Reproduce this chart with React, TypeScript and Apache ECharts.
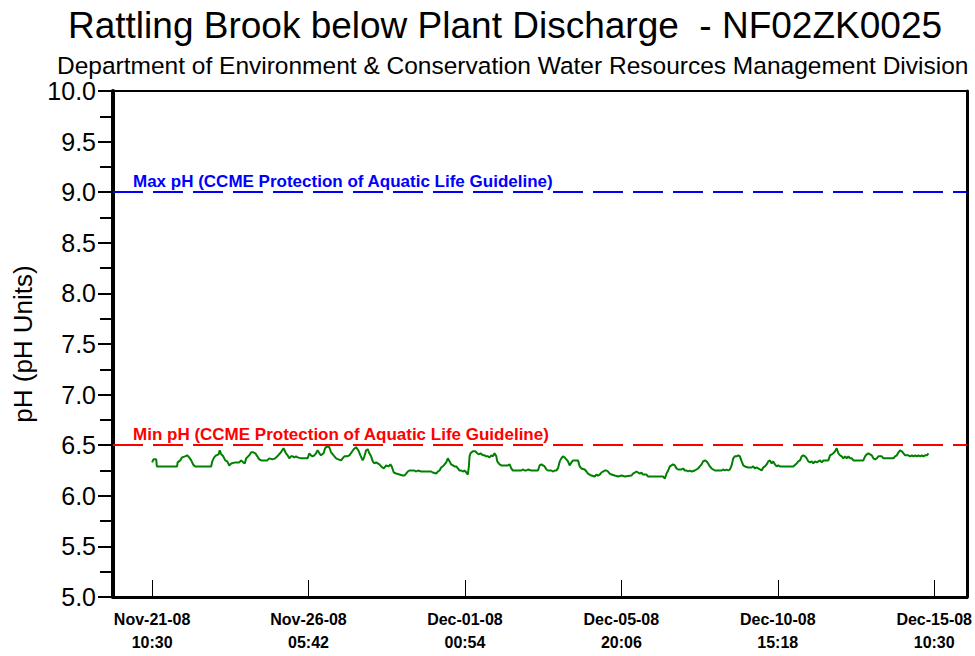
import React, { useEffect, useRef } from "react";
import * as echarts from "echarts";

// Hours after Nov-21-08 10:30, pH
const readingsNov21: [number, number][] = [
  [0, 6.33], [1, 6.36], [3, 6.36], [3.5, 6.29], [18.4, 6.29], [18.8, 6.33], [20.7, 6.35], [22.1, 6.38], [24.3, 6.39], [25.8, 6.4],
  [27.3, 6.38], [28.8, 6.35], [30.2, 6.31], [31.7, 6.29], [43.5, 6.29], [44.3, 6.34], [45.7, 6.38], [47.2, 6.4], [49.0, 6.41], [49.8, 6.45],
  [50.9, 6.41], [52.4, 6.39], [53.9, 6.35], [55.3, 6.34], [56.8, 6.3], [58.3, 6.32], [61.2, 6.33], [64.2, 6.33], [65.6, 6.35], [67.1, 6.33],
  [68.2, 6.32], [69.3, 6.37], [70.8, 6.39], [71.5, 6.4], [73.0, 6.43], [74.5, 6.43], [76.0, 6.42], [77.5, 6.39], [78.9, 6.36], [80.4, 6.35],
  [84.8, 6.35], [86.3, 6.37], [88.5, 6.36], [90.7, 6.37], [92.2, 6.39], [94.9, 6.43], [96.8, 6.47], [98.6, 6.42], [99.8, 6.4], [101.0, 6.37],
  [102.3, 6.39], [103.5, 6.39], [104.7, 6.38], [106.0, 6.39], [107.2, 6.38], [109.7, 6.37], [114.5, 6.37],
];
const readingsNov26: [number, number][] = [
  [115.8, 6.42], [117.0, 6.4], [118.2, 6.39], [119.5, 6.4], [120.7, 6.42], [121.9, 6.45], [123.2, 6.42], [124.4, 6.4], [126.3, 6.42], [127.4, 6.47],
  [128.8, 6.49], [130.5, 6.48], [131.8, 6.43], [133.7, 6.4], [135.5, 6.37], [137.2, 6.36], [139.2, 6.35], [140.3, 6.37], [141.6, 6.39], [143.6, 6.39],
  [145.3, 6.4], [148.5, 6.46], [150.2, 6.48], [151.9, 6.45], [153.4, 6.4], [155.1, 6.35], [156.4, 6.39], [157.6, 6.45], [158.8, 6.46], [160.0, 6.42],
  [161.3, 6.39], [162.5, 6.34], [163.7, 6.32], [165.0, 6.33], [167.4, 6.31], [168.7, 6.29], [170.6, 6.27], [172.4, 6.3], [174.1, 6.29], [175.5, 6.31],
  [176.5, 6.29], [178.0, 6.23], [179.7, 6.22], [182.2, 6.21], [184.6, 6.2], [185.8, 6.2], [187.1, 6.22], [188.3, 6.24], [189.5, 6.25], [190.8, 6.25],
  [193.2, 6.25], [194.5, 6.24], [195.7, 6.25], [198.2, 6.24], [205.5, 6.24], [206.7, 6.23], [209.2, 6.22], [210.4, 6.24], [211.7, 6.25], [212.9, 6.28],
  [214.8, 6.3], [216.6, 6.33], [217.8, 6.37], [219.1, 6.34], [220.3, 6.31], [221.5, 6.3], [222.7, 6.29], [224.0, 6.29], [225.2, 6.27], [226.4, 6.25],
  [227.7, 6.25], [228.8, 6.24], [230.1, 6.25],
];
const readingsDec01: [number, number][] = [
  [231.4, 6.23], [232.5, 6.21], [233.3, 6.29], [233.8, 6.39], [234.5, 6.42], [236.2, 6.44], [238.0, 6.44], [239.5, 6.42], [240.4, 6.41], [241.9, 6.42],
  [243.6, 6.4], [244.9, 6.4], [246.1, 6.39], [247.3, 6.39], [248.5, 6.38], [249.8, 6.4], [251.0, 6.39], [252.2, 6.42], [253.5, 6.39], [254.2, 6.34],
  [255.9, 6.31], [257.2, 6.3], [262.0, 6.3], [263.3, 6.31], [264.5, 6.27], [265.7, 6.25], [269.4, 6.25], [271.9, 6.25], [273.1, 6.26], [274.4, 6.25],
  [275.6, 6.25], [276.8, 6.26], [279.3, 6.25], [284.2, 6.25], [285.4, 6.3], [286.7, 6.31], [287.9, 6.3], [289.1, 6.29], [290.4, 6.26], [291.6, 6.25],
  [294.0, 6.25], [295.2, 6.24], [296.5, 6.25], [297.7, 6.25], [298.9, 6.27], [300.2, 6.34], [301.4, 6.37], [302.6, 6.39], [303.8, 6.38], [305.1, 6.36],
  [306.3, 6.34], [307.5, 6.3], [308.8, 6.33], [310.0, 6.35], [313.7, 6.35], [314.9, 6.29], [316.2, 6.27], [318.6, 6.26], [319.9, 6.24], [321.0, 6.22],
  [323.5, 6.2], [326.0, 6.19], [327.2, 6.21], [328.4, 6.2], [329.7, 6.21], [330.9, 6.23], [332.1, 6.24], [333.4, 6.25], [334.6, 6.25], [335.8, 6.24],
  [337.0, 6.22], [338.3, 6.21], [340.7, 6.2], [343.2, 6.19], [345.7, 6.2],
];
const readingsDec05: [number, number][] = [
  [348.1, 6.19], [353.0, 6.2], [354.2, 6.22], [355.5, 6.23], [356.7, 6.24], [359.2, 6.22], [360.4, 6.23], [361.6, 6.21], [364.1, 6.21], [365.3, 6.19],
  [372.7, 6.19], [376.4, 6.19], [377.6, 6.17], [378.9, 6.22], [380.1, 6.25], [381.3, 6.29], [382.5, 6.3], [383.7, 6.31], [385.0, 6.3], [386.2, 6.27],
  [387.4, 6.26], [389.9, 6.26], [391.1, 6.27], [392.3, 6.25], [393.6, 6.25], [394.8, 6.24], [396.0, 6.25], [397.3, 6.24], [399.7, 6.25], [400.9, 6.26],
  [402.1, 6.27], [403.4, 6.29], [404.7, 6.31], [405.8, 6.34], [407.1, 6.35], [408.3, 6.34], [409.5, 6.32], [410.8, 6.29], [412.0, 6.27], [413.2, 6.26],
  [414.5, 6.25], [416.9, 6.25], [419.4, 6.25], [420.6, 6.26], [421.9, 6.25], [423.1, 6.26], [424.3, 6.25], [425.6, 6.26], [426.8, 6.3], [428.0, 6.37],
  [429.2, 6.39], [430.5, 6.39], [431.7, 6.4], [432.9, 6.39], [434.2, 6.34], [435.4, 6.3], [436.6, 6.29], [439.0, 6.28], [441.6, 6.28], [442.7, 6.29],
  [444.0, 6.27], [445.2, 6.28], [446.4, 6.27], [447.7, 6.26], [448.9, 6.25], [450.1, 6.28], [451.4, 6.29], [452.6, 6.31], [453.8, 6.34], [455.1, 6.35],
  [456.3, 6.32], [457.5, 6.34], [458.7, 6.31], [460.0, 6.29],
];
const readingsDec10: [number, number][] = [
  [461.2, 6.3], [462.4, 6.29], [472.2, 6.29], [474.7, 6.32], [475.9, 6.34], [477.2, 6.35], [478.4, 6.39], [479.6, 6.4], [480.9, 6.39], [482.1, 6.37],
  [483.3, 6.34], [484.5, 6.33], [485.8, 6.34], [487.0, 6.32], [488.2, 6.34], [489.5, 6.33], [490.7, 6.34], [491.9, 6.35], [493.2, 6.33], [494.4, 6.35],
  [498.0, 6.35], [499.3, 6.4], [500.6, 6.41], [501.7, 6.42], [503.0, 6.44], [504.2, 6.47], [505.4, 6.42], [506.7, 6.4], [507.9, 6.39], [509.1, 6.37],
  [510.4, 6.39], [511.6, 6.37], [512.8, 6.39], [514.0, 6.37], [515.3, 6.37], [516.5, 6.35], [517.7, 6.35], [522.7, 6.35], [523.8, 6.35], [525.1, 6.39],
  [526.3, 6.41], [527.5, 6.42], [528.8, 6.41], [530.0, 6.4], [531.2, 6.37], [532.5, 6.36], [533.7, 6.37], [534.9, 6.39], [537.4, 6.39], [538.6, 6.37],
  [546.0, 6.37], [547.2, 6.39], [548.5, 6.4], [549.7, 6.43], [550.9, 6.45], [552.2, 6.44], [553.4, 6.42], [554.6, 6.4], [557.0, 6.4], [558.3, 6.39],
  [559.6, 6.4], [560.7, 6.39], [562.0, 6.4], [563.2, 6.39], [564.4, 6.4], [565.7, 6.39], [566.9, 6.4], [568.1, 6.39], [569.3, 6.4], [570.6, 6.4],
  [571.8, 6.42],
];

const tickHours = [0, 115.2, 230.4, 345.6, 460.8, 576];
const tickDates = ["Nov-21-08", "Nov-26-08", "Dec-01-08", "Dec-05-08", "Dec-10-08", "Dec-15-08"];
const tickTimes = ["10:30", "05:42", "00:54", "20:06", "15:18", "10:30"];

const maxGuideline = 9.0;
const minGuideline = 6.5;
const maxLabel = "Max pH (CCME Protection of Aquatic Life Guideline)";
const minLabel = "Min pH (CCME Protection of Aquatic Life Guideline)";

const titleText = "Rattling Brook below Plant Discharge  - NF02ZK0025";
const subtitleText = "Department of Environment & Conservation Water Resources Management Division";

const FONT = "'Liberation Sans', Arial, sans-serif";

export default function App() {
  const ref = useRef<HTMLDivElement>(null);
  useEffect(() => {
    if (!ref.current) return;
    const chart = echarts.init(ref.current, undefined, { renderer: "svg" });
    const data = [
      ...readingsNov21,
      ...readingsNov26,
      ...readingsDec01,
      ...readingsDec05,
      ...readingsDec10,
    ];
    const guideLabel = (color: string) => ({
      show: true,
      position: "insideStartTop",
      color,
      fontFamily: FONT,
      fontSize: 17,
      fontWeight: "bold",
      distance: 2,
      padding: [0, 0, 0, 18],
    });
    chart.setOption({
      animation: false,
      backgroundColor: "#ffffff",
      title: [
        {
          text: titleText,
          left: 63,
          top: 2,
          textStyle: { fontFamily: FONT, fontSize: 37, fontWeight: "normal", color: "#000" },
        },
        {
          text: subtitleText,
          left: 52,
          top: 48,
          textStyle: { fontFamily: FONT, fontSize: 24.5, fontWeight: "normal", color: "#000" },
        },
      ],
      grid: { left: 113, right: 8, top: 91, bottom: 59, containLabel: false },
      xAxis: [
        {
          type: "value",
          min: -28.8,
          max: 600,
          axisLine: { show: true, onZero: false, lineStyle: { color: "#000", width: 3 } },
          axisTick: {
            show: true,
            inside: true,
            length: 17,
            customValues: tickHours,
            lineStyle: { color: "#000", width: 1 },
          },
          axisLabel: {
            show: true,
            customValues: tickHours,
            margin: 11,
            fontFamily: FONT,
            fontSize: 16,
            fontWeight: "bold",
            lineHeight: 23,
            color: "#000",
            formatter: (v: number) => {
              const i = tickHours.findIndex((t) => Math.abs(t - v) < 0.01);
              return i >= 0 ? `${tickDates[i]}\n${tickTimes[i]}` : "";
            },
          },
          splitLine: { show: false },
        },
        {
          type: "value",
          position: "top",
          min: 0,
          max: 1,
          axisLine: { show: true, onZero: false, lineStyle: { color: "#000", width: 2 } },
          axisTick: { show: false },
          axisLabel: { show: false },
          splitLine: { show: false },
        },
      ],
      yAxis: [
        {
          type: "value",
          min: 5,
          max: 10,
          interval: 0.5,
          name: "pH (pH Units)",
          nameLocation: "middle",
          nameGap: 77,
          nameTextStyle: { fontFamily: FONT, fontSize: 26, color: "#000" },
          axisLine: { show: true, onZero: false, lineStyle: { color: "#000", width: 4 } },
          axisTick: { show: true, length: 15, lineStyle: { color: "#000", width: 2 } },
          minorTick: { show: true, splitNumber: 2, length: 13, lineStyle: { color: "#000", width: 2 } },
          axisLabel: {
            margin: 17,
            fontFamily: FONT,
            fontSize: 25,
            color: "#000",
            formatter: (v: number) => v.toFixed(1),
          },
          splitLine: { show: false },
        },
        {
          type: "value",
          position: "right",
          min: 0,
          max: 1,
          axisLine: { show: true, onZero: false, lineStyle: { color: "#000", width: 3 } },
          axisTick: { show: false },
          axisLabel: { show: false },
          splitLine: { show: false },
        },
      ],
      series: [
        {
          type: "line",
          xAxisIndex: 0,
          yAxisIndex: 0,
          data,
          showSymbol: false,
          symbol: "none",
          lineStyle: { color: "#008000", width: 2 },
          markLine: {
            silent: true,
            symbol: "none",
            data: [
              {
                yAxis: maxGuideline,
                lineStyle: { color: "#0000ff", width: 2, type: [30, 10] },
                label: { ...guideLabel("#0000ff"), formatter: maxLabel },
              },
              {
                yAxis: minGuideline,
                lineStyle: { color: "#ff0000", width: 2, type: [30, 10] },
                label: { ...guideLabel("#ff0000"), formatter: minLabel },
              },
            ],
          },
        },
      ],
    });
    return () => chart.dispose();
  }, []);
  return (
    <div
      ref={ref}
      style={{ position: "absolute", left: 0, top: 0, width: 975, height: 656 }}
    />
  );
}
